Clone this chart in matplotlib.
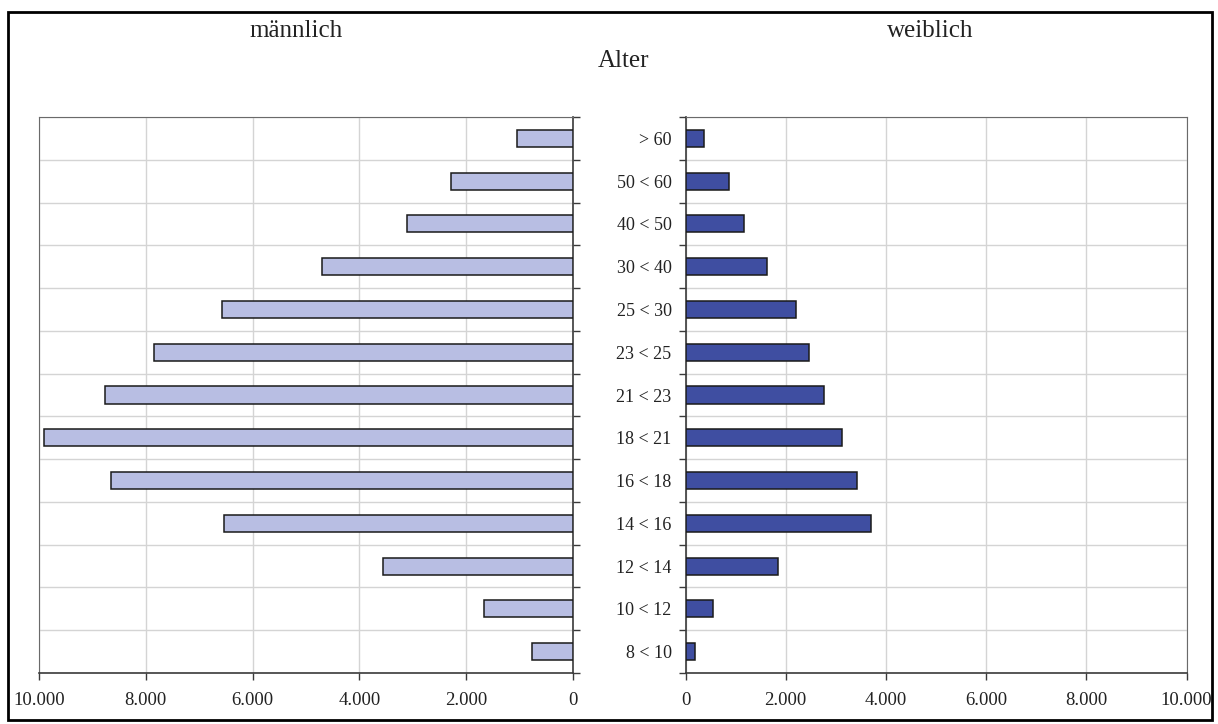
import matplotlib
matplotlib.use("Agg")
import matplotlib.pyplot as plt
from matplotlib.ticker import FuncFormatter, FixedLocator
from matplotlib.patches import Rectangle
import numpy as np

categories = ["> 60", "50 < 60", "40 < 50", "30 < 40", "25 < 30", "23 < 25", "21 < 23",
              "18 < 21", "16 < 18", "14 < 16", "12 < 14", "10 < 12", "8 < 10"]
male = [1050, 2280, 3110, 4700, 6580, 7850, 8770, 9900, 8660, 6530, 3550, 1670, 770]
female = [360, 860, 1160, 1620, 2200, 2470, 2770, 3120, 3425, 3700, 1840, 550, 190]
xticks = [0, 2000, 4000, 6000, 8000, 10000]

plt.rcParams['font.family'] = ['Liberation Serif', 'DejaVu Serif']

W, H = 1218, 724
fig = plt.figure(figsize=(W / 100, H / 100), dpi=100)

def ax_rect(x0, x1, ytop, ybot):
    return [x0 / W, (H - ybot) / H, (x1 - x0) / W, (ybot - ytop) / H]

axL = fig.add_axes(ax_rect(39, 573, 117, 673))
axR = fig.add_axes(ax_rect(685.5, 1186.5, 117, 673))

n = len(categories)
ypos = np.arange(n)[::-1]  # first category on top
fmt = FuncFormatter(lambda v, p: f"{int(v):,}".replace(",", "."))
grid_c = "#d4d4d4"
spine_dark = "#3a3a3a"
text_c = "#222222"

for ax, vals, color in ((axL, male, "#b8bee3"), (axR, female, "#3f4ea1")):
    ax.barh(ypos, vals, height=0.4, color=color, edgecolor="#1a1a1a", linewidth=1.1, zorder=3)
    ax.set_xlim(0, 10000)
    ax.set_ylim(-0.5, n - 0.5)
    ax.set_xticks(xticks)
    ax.xaxis.set_major_formatter(fmt)
    ax.set_yticks(ypos)
    ax.yaxis.set_minor_locator(FixedLocator(np.arange(n + 1) - 0.5))
    ax.grid(True, axis="x", which="major", color=grid_c, linewidth=1.0, zorder=0)
    ax.grid(True, axis="y", which="minor", color=grid_c, linewidth=1.0, zorder=0)
    ax.tick_params(axis="x", which="major", length=5, width=1, color=spine_dark,
                   labelsize=13.5, pad=9, direction="out", labelcolor=text_c)
    ax.tick_params(axis="y", which="major", length=0)
    ax.tick_params(axis="y", which="minor", length=5, width=1, color=spine_dark, direction="out")
    ax.spines["bottom"].set_color(spine_dark)
    ax.spines["bottom"].set_linewidth(1.2)
    ax.spines["top"].set_color("#6a6a6a")

axL.invert_xaxis()
axL.set_yticklabels([])
axL.yaxis.tick_right()
axL.yaxis.set_ticks_position("right")
axL.spines["right"].set_color(spine_dark)
axL.spines["right"].set_linewidth(1.2)
axL.spines["left"].set_color("#6a6a6a")

axR.set_yticklabels(categories, fontsize=13, color=text_c)
axR.tick_params(axis="y", which="major", pad=10)
axR.spines["left"].set_color(spine_dark)
axR.spines["left"].set_linewidth(1.2)
axR.spines["right"].set_color("#6a6a6a")

fig.text(296 / W, 1 - 37 / H, "männlich", ha="center", va="baseline", fontsize=18, color=text_c)
fig.text(930 / W, 1 - 37 / H, "weiblich", ha="center", va="baseline", fontsize=18, color=text_c)
fig.text(623 / W, 1 - 67 / H, "Alter", ha="center", va="baseline", fontsize=18, color=text_c)

fig.patches.append(Rectangle((8 / W, 4 / H), 1204 / W, (H - 12 - 4) / H,
                             transform=fig.transFigure, fill=False,
                             edgecolor="black", linewidth=2))

fig.savefig("out.png", dpi=100)
